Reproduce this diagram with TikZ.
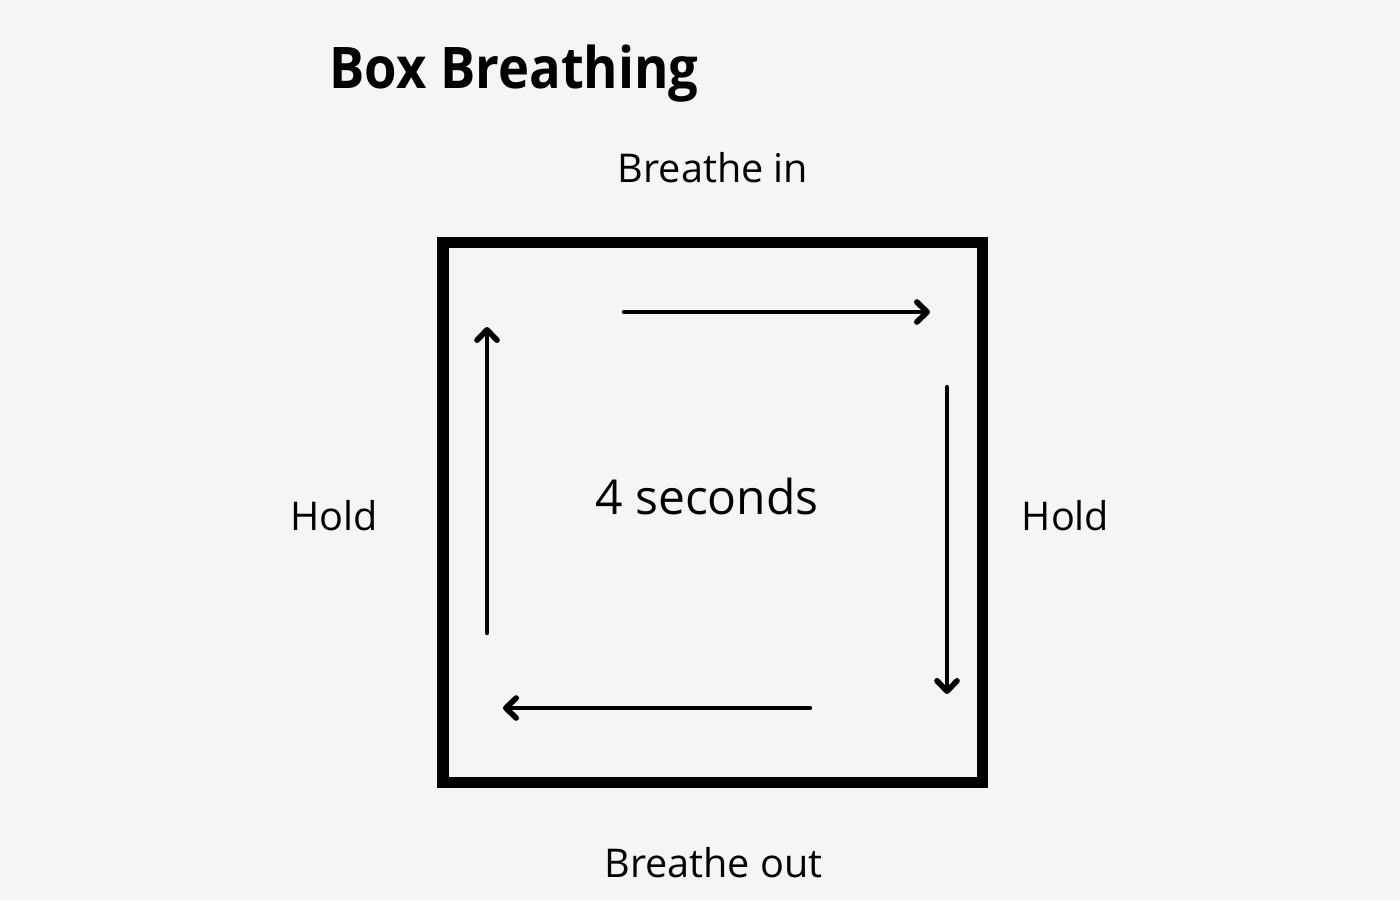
\documentclass[tikz,border=0pt]{standalone}
\usepackage{fontspec}
\setmainfont{Open Sans}
\usetikzlibrary{arrows.meta}
\definecolor{bg}{RGB}{245,245,243}
\tikzset{
  lbl/.style={font=\fontsize{19.8pt}{23pt}\selectfont, inner sep=0pt, anchor=base, text=black},
  flow/.style={line width=2.2pt, line cap=round, -{Straight Barb[length=5.2pt,width=10pt,line width=2.8pt,round]}},
  frame/.style={line width=5.8pt, line join=miter, draw=black}
}
\begin{document}
\begin{tikzpicture}[x=0.5pt,y=-0.5pt]
\fill[bg] (0,0) rectangle (1400,900);
\useasboundingbox (0,0) rectangle (1400,900);
\node[font=\bfseries\fontsize{28.7pt}{32pt}\selectfont, inner sep=0pt, anchor=base west] (title) at (329,88) {\scalebox{0.915}[1]{Box Breathing}};
\node[lbl] (in) at (713,182) {Breathe in};
\node[lbl] (out) at (713.5,877) {Breathe out};
\node[lbl] (holdL) at (334,530) {Hold};
\node[lbl] (holdR) at (1065.5,530) {Hold};
\node[font=\fontsize{24pt}{28pt}\selectfont, inner sep=0pt, anchor=base] (secs) at (707,514) {4 seconds};
\draw[frame] (443,242.5) rectangle (982.5,782.5);
\coordinate (t1) at (624,312); \coordinate (t2) at (930,312);
\coordinate (r1) at (947,387); \coordinate (r2) at (947,694);
\coordinate (b1) at (810,708); \coordinate (b2) at (503,708);
\coordinate (l1) at (487,633); \coordinate (l2) at (487,327);
\draw[flow] (t1) -- (t2);
\draw[flow] (r1) -- (r2);
\draw[flow] (b1) -- (b2);
\draw[flow] (l1) -- (l2);
\end{tikzpicture}
\end{document}
